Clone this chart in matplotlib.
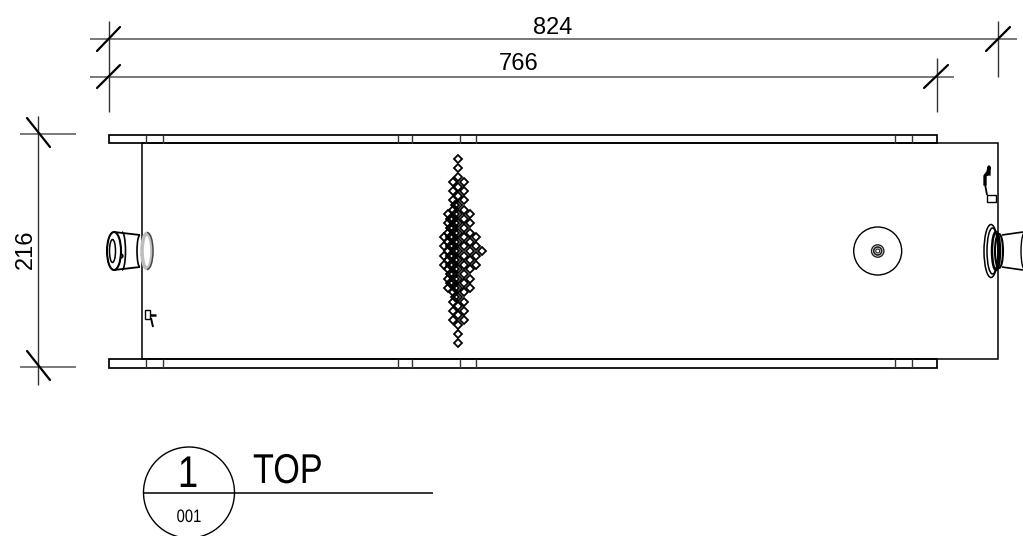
from __future__ import annotations

import matplotlib

matplotlib.use("Agg")
import matplotlib.pyplot as plt
from matplotlib.patches import Arc, Circle, Ellipse, Rectangle
from matplotlib.patheffects import AbstractPathEffect
from matplotlib.transforms import Affine2D

# everything is in reference pixels, y pointing down
plate_left, plate_right = 108.5, 936.5
plate_rows = [(134.5, 143), (358.5, 367.5)]
plate_dividers = [146, 163, 398, 412, 460, 476, 895, 912]
body = (141.5, 142.5, 998, 358.5)

dim_h_lines = [(90, 1017, 39), (90, 954, 76.5)]
dim_v_lines = [(108.5, 21, 112), (998, 21, 77), (936.5, 58, 112), (38, 116, 385)]
dim_h2_lines = [(20, 76, 134), (20, 76, 367)]
dim_ticks = [
    (97, 51, 120, 27),
    (97, 88, 120, 65),
    (986, 51, 1010, 27),
    (924, 88, 948, 65),
    (27, 118, 50, 147),
    (27, 351, 50, 380),
]
dim_labels = ["824", "766", "216"]

# diamond pattern: column x, distance of the rows from the middle row
pattern_y = 251
pattern_columns = [
    (444, [4.6, 13.8]),
    (447.5, [0, 9.2, 18.4, 27.6, 36.8]),
    (450, [4.6, 13.8, 23, 32.2]),
    (452.5, [4.6, 13.8, 23, 32.2, 41.4, 50.6, 59.8, 69]),
    (455, [0, 9.2, 18.4, 27.6, 36.8, 46]),
    (458, [0, 9.2, 18.4, 27.6, 36.8, 46, 55.2, 64.4, 73.6, 82.8, 92]),
    (464, [4.6, 13.8, 23, 32.2, 41.4, 50.6, 59.8, 69]),
    (470, [0, 9.2, 18.4, 27.6, 36.8]),
    (476, [4.6, 13.8]),
    (482, [0]),
]

title_text = "TOP"
sheet_number = "1"
sheet_ref = "001"


class SqueezeX(AbstractPathEffect):
    # no narrow face is installed, so the glyphs get squeezed around their anchor
    def __init__(self, anchor_px, factor):
        super().__init__()
        self.anchor_px = anchor_px
        self.factor = factor

    def draw_path(self, renderer, gc, tpath, affine, rgbFace=None):
        squeeze = Affine2D().translate(-self.anchor_px, 0).scale(self.factor, 1).translate(self.anchor_px, 0)
        renderer.draw_path(gc, tpath, affine + squeeze, rgbFace)


def line(ax, xs, ys, lw=1.0, color="black", zorder=2):
    ax.plot(xs, ys, color=color, lw=lw, solid_capstyle="butt", zorder=zorder)


def draw_plates(ax):
    for top, bottom in plate_rows:
        ax.add_patch(Rectangle((plate_left, top), plate_right - plate_left, bottom - top,
                               fill=False, ec="black", lw=1.25))
        for x in plate_dividers:
            line(ax, [x, x], [top, bottom], lw=1.0, color="#333333")
    x0, y0, x1, y1 = body
    ax.add_patch(Rectangle((x0, y0), x1 - x0, y1 - y0, fill=False, ec="black", lw=1.1))


def draw_dimensions(ax):
    for x0, x1, y in dim_h_lines + dim_h2_lines:
        line(ax, [x0, x1], [y, y], lw=1.1, color="#555555")
    for x, y0, y1 in dim_v_lines:
        line(ax, [x, x], [y0, y1], lw=1.0, color="#333333")
    for x0, y0, x1, y1 in dim_ticks:
        ax.plot([x0, x1], [y0, y1], color="black", lw=1.6, solid_capstyle="round")
    ax.text(553, 28, dim_labels[0], ha="center", va="center", fontsize=17)
    ax.text(519, 64, dim_labels[1], ha="center", va="center", fontsize=17)
    ax.text(26, 249, dim_labels[2], ha="center", va="center", fontsize=17, rotation=90)


def draw_pattern(ax):
    for x, offsets in pattern_columns:
        for dy in offsets:
            rows = [pattern_y - dy, pattern_y + dy] if dy else [pattern_y]
            ax.plot([x] * len(rows), rows, ls="none", marker="D", ms=3.6, mfc="none",
                    mec="black", mew=1.3, zorder=3)


def draw_left_fixture(ax):
    ax.add_patch(Ellipse((147, 251), 10, 35, fill=False, ec="#bdbdbd", lw=2.6))
    ax.add_patch(Arc((147, 251), 12, 37, theta1=-90, theta2=90, ec="#444444", lw=1.0))
    ax.add_patch(Ellipse((114, 251), 14, 38, fc="white", ec="black", lw=1.5, zorder=3))
    ax.add_patch(Ellipse((112.5, 251), 6, 23, fill=False, ec="black", lw=1.1, zorder=4))
    line(ax, [114, 140], [232, 235], lw=1.3)
    line(ax, [114, 140], [270, 267], lw=1.3)
    ax.add_patch(Arc((122, 251), 7, 38, theta1=-90, theta2=90, ec="black", lw=1.2))
    ax.add_patch(Arc((140, 251), 6, 32, theta1=90, theta2=270, ec="black", lw=1.2))
    ax.add_patch(Circle((121, 256), 1.8, fill=False, ec="black", lw=1.2))
    # small bracket below
    ax.add_patch(Rectangle((145, 310), 5, 9, fill=False, ec="black", lw=1.0))
    line(ax, [150, 156], [315, 315], lw=1.8)
    line(ax, [151, 153], [318, 327], lw=1.4)


def draw_right_fixture(ax):
    ax.add_patch(Circle((877.7, 251), 24, fill=False, ec="black", lw=1.0))
    for r, lw in [(6.2, 1.0), (4, 1.2), (2, 0.8)]:
        ax.add_patch(Circle((877.7, 251), r, fill=False, ec="#222222", lw=lw))

    for x, w, h in [(991, 14, 53), (992.5, 11, 46)]:
        ax.add_patch(Ellipse((x, 251), w, h, fill=False, ec="black", lw=1.1))
    ax.add_patch(Ellipse((996, 251), 8, 38, fill=False, ec="black", lw=1.8))
    ax.add_patch(Ellipse((999, 251), 8, 34, fill=False, ec="black", lw=1.5))
    line(ax, [1002, 1023], [235, 232], lw=1.2)
    line(ax, [1002, 1023], [267, 270], lw=1.2)
    ax.add_patch(Arc((1025, 251), 8, 38, theta1=90, theta2=270, ec="black", lw=1.0))

    # bracket above
    ax.add_patch(Rectangle((987, 195), 9, 6.5, fill=False, ec="black", lw=1.0))
    line(ax, [987, 985], [195, 184], lw=1.3)
    ax.plot([985, 985, 988, 989, 989], [184, 176, 172, 167, 174], color="black", lw=2.4)


def draw_title(ax):
    ax.add_patch(Circle((189, 492.5), 45.5, fill=False, ec="black", lw=1.0))
    line(ax, [143.5, 433], [492.5, 492.5], lw=1.1)
    one = ax.text(188, 487, sheet_number, ha="center", va="baseline", fontsize=32)
    one.set_path_effects([SqueezeX(188, 0.82)])
    top = ax.text(253, 483, title_text, ha="left", va="baseline", fontsize=30)
    top.set_path_effects([SqueezeX(253, 0.82)])
    ref = ax.text(189, 522, sheet_ref, ha="center", va="baseline", fontsize=13)
    ref.set_path_effects([SqueezeX(189, 0.82)])


def main() -> None:
    plt.rcParams["font.family"] = ["Liberation Sans", "DejaVu Sans"]
    fig = plt.figure(figsize=(10.23, 5.36), dpi=100)
    ax = fig.add_axes([0, 0, 1, 1])
    ax.set_xlim(0, 1023)
    ax.set_ylim(536, 0)
    ax.axis("off")

    draw_plates(ax)
    draw_dimensions(ax)
    draw_pattern(ax)
    draw_left_fixture(ax)
    draw_right_fixture(ax)
    draw_title(ax)

    fig.savefig("out.png", dpi=100)
    plt.close(fig)


if __name__ == "__main__":
    main()
